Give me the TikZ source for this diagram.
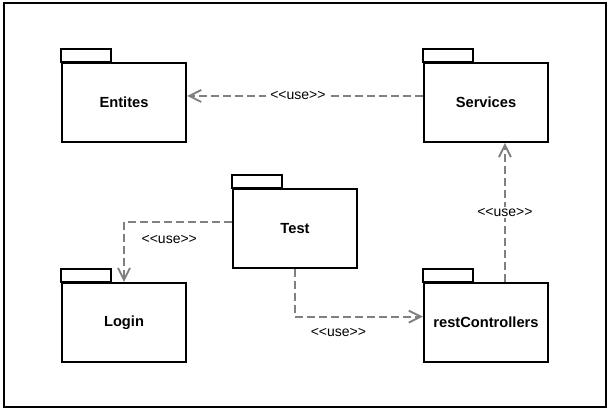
\documentclass[tikz,border=0pt]{standalone}
\usepackage{fontspec}
\setmainfont{Liberation Sans}[Ligatures=TeXOff]
\usetikzlibrary{arrows.meta}
\usetikzlibrary{positioning}

\begin{document}
\begin{tikzpicture}[
            x = 0.75pt, y = -0.75pt, % one unit = one pixel
            > = {Straight Barb[length=9pt,width=9pt]}, % open arrow head
            semithick
        ]

        \tikzstyle{package}=[
            draw,
            line width = 1.8pt,
            fill = white,
            inner sep = 0pt,
            minimum width = 93pt,
            minimum height = 59pt,
            font = \bfseries\fontsize{11}{13}\selectfont
        ]
        \tikzstyle{use}=[
            draw = gray,
            line width = 1.4pt,
            dash pattern = on 6pt off 3pt
        ]
        \tikzstyle{stereo}=[
            fill = white,
            inner xsep = 3pt,
            inner ysep = 1pt,
            font = \fontsize{10.5}{12}\selectfont
        ]

        \useasboundingbox (0,0) rectangle (609,410);

	% OUTER FRAME
        \draw[line width = 1.6pt] (4,3) rectangle (606,407);

	% PACKAGES
        \node[package] (E) at (124,102.5) {Entites};
        \node[package] (S) at (486,102.5) {Services};
        \node[package] (T) at (295,228.5) {Test};
        \node[package] (L) at (124,322.5) {Login};
        \node[package] (R) at (486,322.5) {restControllers};

        \foreach \p in {E,S,T,L,R}
            \draw[line width = 1.8pt] (\p.north west) rectangle ++(50,-13);

	% USE DEPENDENCIES
        \draw[use,->] ([yshift=4.9pt]S.west) -- node[stereo, pos=0.53] {<<use>>} ([yshift=4.9pt]E.east);
        \draw[use,->] ([xshift=14.2pt]R.north) -- node[stereo] {<<use>>} ([xshift=14.2pt]S.south);
        \draw[use,->] ([yshift=4.9pt]T.west) -| node[stereo, fill=none, pos=0.29, below=8pt] {<<use>>} (L.north);
        \draw[use,->] (T.south) |- node[stereo, fill=none, pos=0.67, below=7pt] {<<use>>} ([yshift=4.4pt]R.west);

  \end{tikzpicture}
\end{document}
